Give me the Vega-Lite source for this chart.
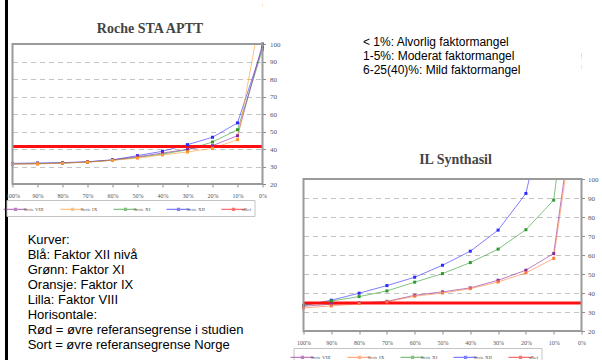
{
  "$schema": "https://vega.github.io/schema/vega-lite/v6.json",
  "width": 602,
  "height": 370,
  "autosize": {"type": "none"},
  "padding": {"left": 6.5, "top": -4, "right": 0, "bottom": 0},
  "background": "white",
  "config": {"view": {"stroke": "#000000", "strokeWidth": 3}},
  "datasets": {
    "curves": [
      {"chart": "A", "series": "Serie XII", "pct": 100, "value": 31.8},
      {"chart": "A", "series": "Serie XII", "pct": 90, "value": 32.0},
      {"chart": "A", "series": "Serie XII", "pct": 80, "value": 32.2},
      {"chart": "A", "series": "Serie XII", "pct": 70, "value": 32.7},
      {"chart": "A", "series": "Serie XII", "pct": 60, "value": 33.8},
      {"chart": "A", "series": "Serie XII", "pct": 50, "value": 36.2},
      {"chart": "A", "series": "Serie XII", "pct": 40, "value": 38.7},
      {"chart": "A", "series": "Serie XII", "pct": 30, "value": 42.5},
      {"chart": "A", "series": "Serie XII", "pct": 20, "value": 46.7},
      {"chart": "A", "series": "Serie XII", "pct": 10, "value": 54.9},
      {"chart": "A", "series": "Serie XII", "pct": 0, "value": 98},
      {"chart": "A", "series": "Serie XI", "pct": 100, "value": 31.5},
      {"chart": "A", "series": "Serie XI", "pct": 90, "value": 31.7},
      {"chart": "A", "series": "Serie XI", "pct": 80, "value": 32.0},
      {"chart": "A", "series": "Serie XI", "pct": 70, "value": 32.5},
      {"chart": "A", "series": "Serie XI", "pct": 60, "value": 33.6},
      {"chart": "A", "series": "Serie XI", "pct": 50, "value": 35.2},
      {"chart": "A", "series": "Serie XI", "pct": 40, "value": 37.1},
      {"chart": "A", "series": "Serie XI", "pct": 30, "value": 39.6},
      {"chart": "A", "series": "Serie XI", "pct": 20, "value": 44.0},
      {"chart": "A", "series": "Serie XI", "pct": 10, "value": 51.0},
      {"chart": "A", "series": "Serie XI", "pct": 0, "value": 96.8},
      {"chart": "A", "series": "Serie VIII", "pct": 100, "value": 31.5},
      {"chart": "A", "series": "Serie VIII", "pct": 90, "value": 31.6},
      {"chart": "A", "series": "Serie VIII", "pct": 80, "value": 32.0},
      {"chart": "A", "series": "Serie VIII", "pct": 70, "value": 32.6},
      {"chart": "A", "series": "Serie VIII", "pct": 60, "value": 33.7},
      {"chart": "A", "series": "Serie VIII", "pct": 50, "value": 35.6},
      {"chart": "A", "series": "Serie VIII", "pct": 40, "value": 37.7},
      {"chart": "A", "series": "Serie VIII", "pct": 30, "value": 39.8},
      {"chart": "A", "series": "Serie VIII", "pct": 20, "value": 41.9},
      {"chart": "A", "series": "Serie VIII", "pct": 10, "value": 47.6},
      {"chart": "A", "series": "Serie VIII", "pct": 0, "value": 100},
      {"chart": "A", "series": "Serie IX", "pct": 100, "value": 31.5},
      {"chart": "A", "series": "Serie IX", "pct": 90, "value": 31.5},
      {"chart": "A", "series": "Serie IX", "pct": 80, "value": 31.9},
      {"chart": "A", "series": "Serie IX", "pct": 70, "value": 32.5},
      {"chart": "A", "series": "Serie IX", "pct": 60, "value": 33.5},
      {"chart": "A", "series": "Serie IX", "pct": 50, "value": 34.8},
      {"chart": "A", "series": "Serie IX", "pct": 40, "value": 36.6},
      {"chart": "A", "series": "Serie IX", "pct": 30, "value": 38.3},
      {"chart": "A", "series": "Serie IX", "pct": 20, "value": 40.4},
      {"chart": "A", "series": "Serie IX", "pct": 10, "value": 45.3},
      {"chart": "A", "series": "Serie IX", "pct": 0, "value": 123},
      {"chart": "B", "series": "Serie XII", "pct": 100, "value": 33.5},
      {"chart": "B", "series": "Serie XII", "pct": 90, "value": 36.2},
      {"chart": "B", "series": "Serie XII", "pct": 80, "value": 39.9},
      {"chart": "B", "series": "Serie XII", "pct": 70, "value": 43.9},
      {"chart": "B", "series": "Serie XII", "pct": 60, "value": 48.3},
      {"chart": "B", "series": "Serie XII", "pct": 50, "value": 54.6},
      {"chart": "B", "series": "Serie XII", "pct": 40, "value": 62.0},
      {"chart": "B", "series": "Serie XII", "pct": 30, "value": 73.1},
      {"chart": "B", "series": "Serie XII", "pct": 20, "value": 92.4},
      {"chart": "B", "series": "Serie XII", "pct": 10, "value": 156},
      {"chart": "B", "series": "Serie XII", "pct": 0, "value": 250},
      {"chart": "B", "series": "Serie XI", "pct": 100, "value": 33.5},
      {"chart": "B", "series": "Serie XI", "pct": 90, "value": 35.8},
      {"chart": "B", "series": "Serie XI", "pct": 80, "value": 38.1},
      {"chart": "B", "series": "Serie XI", "pct": 70, "value": 41.1},
      {"chart": "B", "series": "Serie XI", "pct": 60, "value": 45.7},
      {"chart": "B", "series": "Serie XI", "pct": 50, "value": 50.2},
      {"chart": "B", "series": "Serie XI", "pct": 40, "value": 56.0},
      {"chart": "B", "series": "Serie XI", "pct": 30, "value": 63.1},
      {"chart": "B", "series": "Serie XI", "pct": 20, "value": 73.3},
      {"chart": "B", "series": "Serie XI", "pct": 10, "value": 88.9},
      {"chart": "B", "series": "Serie XI", "pct": 0, "value": 204},
      {"chart": "B", "series": "Serie VIII", "pct": 100, "value": 33.0},
      {"chart": "B", "series": "Serie VIII", "pct": 90, "value": 34.1},
      {"chart": "B", "series": "Serie VIII", "pct": 80, "value": 34.8},
      {"chart": "B", "series": "Serie VIII", "pct": 70, "value": 35.6},
      {"chart": "B", "series": "Serie VIII", "pct": 60, "value": 38.8},
      {"chart": "B", "series": "Serie VIII", "pct": 50, "value": 40.6},
      {"chart": "B", "series": "Serie VIII", "pct": 40, "value": 42.7},
      {"chart": "B", "series": "Serie VIII", "pct": 30, "value": 46.7},
      {"chart": "B", "series": "Serie VIII", "pct": 20, "value": 52.0},
      {"chart": "B", "series": "Serie VIII", "pct": 10, "value": 60.8},
      {"chart": "B", "series": "Serie VIII", "pct": 0, "value": 166},
      {"chart": "B", "series": "Serie IX", "pct": 100, "value": 32.1},
      {"chart": "B", "series": "Serie IX", "pct": 90, "value": 33.2},
      {"chart": "B", "series": "Serie IX", "pct": 80, "value": 34.4},
      {"chart": "B", "series": "Serie IX", "pct": 70, "value": 35.3},
      {"chart": "B", "series": "Serie IX", "pct": 60, "value": 38.3},
      {"chart": "B", "series": "Serie IX", "pct": 50, "value": 40.0},
      {"chart": "B", "series": "Serie IX", "pct": 40, "value": 42.3},
      {"chart": "B", "series": "Serie IX", "pct": 30, "value": 45.8},
      {"chart": "B", "series": "Serie IX", "pct": 20, "value": 50.6},
      {"chart": "B", "series": "Serie IX", "pct": 10, "value": 58.2},
      {"chart": "B", "series": "Serie IX", "pct": 0, "value": 160}
    ],
    "refs": [
      {"chart": "A", "series": "xRef", "value": 41.5},
      {"chart": "B", "series": "xRef", "value": 34.8}
    ]
  },
  "layer": [
    {
      "layer": [
        {
          "data": {"name": "curves"},
          "transform": [{"filter": "datum.chart === 'A'"}],
          "mark": {"type": "line", "strokeWidth": 1, "opacity": 0.6},
          "encoding": {
            "x": {"field": "pct", "type": "quantitative", "scale": {"domain": [100, 0], "range": [6, 256], "nice": false, "zero": false},
              "axis": {"orient": "bottom", "offset": -182, "values": [100, 90, 80, 70, 60, 50, 40, 30, 20, 10, 0], "labelExpr": "datum.value + '%'", "labelFont": "Liberation Serif", "labelFontSize": 6, "labelColor": "#555555", "tickColor": "#8a8a8a", "tickSize": 3, "labelPadding": 5, "domain": false, "grid": false, "title": null, "labelOverlap": false, "labelFlush": false}},
            "y": {"field": "value", "type": "quantitative", "scale": {"domain": [20, 100], "range": [188, 48], "nice": false, "zero": false},
              "axis": {"orient": "right", "offset": -346, "values": [20, 30, 40, 50, 60, 70, 80, 90, 100], "labelFont": "Liberation Serif", "labelFontSize": 7, "labelColor": "#555555", "tickColor": "#8a8a8a", "tickSize": 3, "labelPadding": 4, "domain": false, "grid": false, "title": null, "labelOverlap": false}},
            "color": {"field": "series", "type": "nominal", "scale": {"domain": ["Serie VIII", "Serie IX", "Serie XI", "Serie XII", "xRef"], "range": ["#8e2a9a", "#ff9a2e", "#2e9a2e", "#2a2aff", "#ff1010"]},
              "legend": {"orient": "none", "legendX": 0, "legendY": 204, "direction": "horizontal", "columns": 5, "title": null,
                "symbolType": "M-2.4,0H2.4M-0.2,-0.2H0.2V0.2H-0.2Z", "symbolSize": 100, "symbolStrokeWidth": 1.2,
                "labelFont": "Liberation Serif", "labelFontSize": 5, "labelColor": "#555555", "labelOffset": 2, "columnPadding": 13, "padding": 3,
                "strokeColor": "#c4c4c4", "fillColor": "white"}}
          }
        },
        {
          "data": {"name": "refs"},
          "transform": [{"filter": "datum.chart === 'A'"}],
          "mark": {"type": "rule", "strokeWidth": 3},
          "encoding": {
            "x": {"datum": 100, "type": "quantitative", "scale": {"domain": [100, 0], "range": [6, 256], "nice": false, "zero": false}, "axis": null},
            "x2": {"datum": 0},
            "y": {"field": "value", "type": "quantitative", "scale": {"domain": [20, 100], "range": [188, 48], "nice": false, "zero": false}, "axis": null},
            "color": {"field": "series", "type": "nominal", "scale": {"domain": ["Serie VIII", "Serie IX", "Serie XI", "Serie XII", "xRef"], "range": ["#8e2a9a", "#ff9a2e", "#2e9a2e", "#2a2aff", "#ff1010"]}, "legend": null}
          }
        },
        {
          "data": {"values": [{"mask": "A"}]},
          "mark": {"type": "rect", "fill": "white", "strokeWidth": 0},
          "encoding": {
            "x": {"datum": 100, "type": "quantitative", "scale": {"domain": [100, 0], "range": [6, 256], "nice": false, "zero": false}, "axis": null},
            "x2": {"datum": 0},
            "y": {"datum": 100, "type": "quantitative", "scale": {"domain": [20, 100], "range": [188, 48], "nice": false, "zero": false}, "axis": null},
            "y2": {"datum": 400}
          }
        },
        {
          "data": {"name": "curves"},
          "transform": [{"filter": "datum.chart === 'A' && datum.value <= 100"}],
          "mark": {"type": "point", "shape": "square", "filled": true, "size": 9, "opacity": 1},
          "encoding": {
            "x": {"field": "pct", "type": "quantitative", "scale": {"domain": [100, 0], "range": [6, 256], "nice": false, "zero": false}, "axis": null},
            "y": {"field": "value", "type": "quantitative", "scale": {"domain": [20, 100], "range": [188, 48], "nice": false, "zero": false}, "axis": null},
            "color": {"field": "series", "type": "nominal", "scale": {"domain": ["Serie VIII", "Serie IX", "Serie XI", "Serie XII", "xRef"], "range": ["#8e2a9a", "#ff9a2e", "#2e9a2e", "#2a2aff", "#ff1010"]}, "legend": null}
          }
        },
        {
          "data": {"values": [{"frame": "A"}]},
          "mark": {"type": "rect", "fill": "transparent", "stroke": "#9a9a9a", "strokeWidth": 2},
          "encoding": {
            "x": {"datum": 100, "type": "quantitative", "scale": {"domain": [100, 0], "range": [6, 256], "nice": false, "zero": false}, "axis": null},
            "x2": {"datum": 0},
            "y": {"datum": 20, "type": "quantitative", "scale": {"domain": [20, 100], "range": [188, 48], "nice": false, "zero": false},
              "axis": {"orient": "left", "grid": true, "gridDash": [5, 4], "gridColor": "#c4c4c4", "gridWidth": 1, "labels": false, "ticks": false, "domain": false, "values": [30, 40, 50, 60, 70, 80, 90], "title": null}},
            "y2": {"datum": 100}
          }
        }
      ],
      "resolve": {"axis": {"x": "independent", "y": "independent"}}
    },
    {
      "layer": [
        {
          "data": {"name": "curves"},
          "transform": [{"filter": "datum.chart === 'B'"}],
          "mark": {"type": "line", "strokeWidth": 1, "opacity": 0.6},
          "encoding": {
            "x": {"field": "pct", "type": "quantitative", "scale": {"domain": [100, 0], "range": [297, 575], "nice": false, "zero": false},
              "axis": {"orient": "bottom", "offset": -35, "values": [100, 90, 80, 70, 60, 50, 40, 30, 20, 10, 0], "labelExpr": "datum.value + '%'", "labelFont": "Liberation Serif", "labelFontSize": 6, "labelColor": "#555555", "tickColor": "#8a8a8a", "tickSize": 3, "labelPadding": 5, "domain": false, "grid": false, "title": null, "labelOverlap": false, "labelFlush": false}},
            "y": {"field": "value", "type": "quantitative", "scale": {"domain": [20, 100], "range": [335, 183], "nice": false, "zero": false},
              "axis": {"orient": "right", "offset": -27, "values": [20, 30, 40, 50, 60, 70, 80, 90, 100], "labelFont": "Liberation Serif", "labelFontSize": 7, "labelColor": "#555555", "tickColor": "#8a8a8a", "tickSize": 3, "labelPadding": 3, "domain": false, "grid": false, "title": null, "labelOverlap": false}},
            "color": {"field": "series", "type": "nominal", "scale": {"domain": ["Serie VIII", "Serie IX", "Serie XI", "Serie XII", "xRef"], "range": ["#8e2a9a", "#ff7a3a", "#2e9a2e", "#2a2aff", "#ff1010"]},
              "legend": {"orient": "none", "legendX": 287, "legendY": 352, "direction": "horizontal", "columns": 5, "title": null,
                "symbolType": "M-2.4,0H2.4M-0.2,-0.2H0.2V0.2H-0.2Z", "symbolSize": 100, "symbolStrokeWidth": 1.2,
                "labelFont": "Liberation Serif", "labelFontSize": 5, "labelColor": "#555555", "labelOffset": 2, "columnPadding": 13, "padding": 3,
                "strokeColor": "#c4c4c4", "fillColor": "white"}}
          }
        },
        {
          "data": {"name": "refs"},
          "transform": [{"filter": "datum.chart === 'B'"}],
          "mark": {"type": "rule", "strokeWidth": 3},
          "encoding": {
            "x": {"datum": 100, "type": "quantitative", "scale": {"domain": [100, 0], "range": [297, 575], "nice": false, "zero": false}, "axis": null},
            "x2": {"datum": 0},
            "y": {"field": "value", "type": "quantitative", "scale": {"domain": [20, 100], "range": [335, 183], "nice": false, "zero": false}, "axis": null},
            "color": {"field": "series", "type": "nominal", "scale": {"domain": ["Serie VIII", "Serie IX", "Serie XI", "Serie XII", "xRef"], "range": ["#8e2a9a", "#ff7a3a", "#2e9a2e", "#2a2aff", "#ff1010"]}, "legend": null}
          }
        },
        {
          "data": {"values": [{"mask": "B"}]},
          "mark": {"type": "rect", "fill": "white", "strokeWidth": 0},
          "encoding": {
            "x": {"datum": 100, "type": "quantitative", "scale": {"domain": [100, 0], "range": [297, 575], "nice": false, "zero": false}, "axis": null},
            "x2": {"datum": 0},
            "y": {"datum": 100, "type": "quantitative", "scale": {"domain": [20, 100], "range": [335, 183], "nice": false, "zero": false}, "axis": null},
            "y2": {"datum": 400}
          }
        },
        {
          "data": {"name": "curves"},
          "transform": [{"filter": "datum.chart === 'B' && datum.value <= 100"}],
          "mark": {"type": "point", "shape": "square", "filled": true, "size": 9, "opacity": 1},
          "encoding": {
            "x": {"field": "pct", "type": "quantitative", "scale": {"domain": [100, 0], "range": [297, 575], "nice": false, "zero": false}, "axis": null},
            "y": {"field": "value", "type": "quantitative", "scale": {"domain": [20, 100], "range": [335, 183], "nice": false, "zero": false}, "axis": null},
            "color": {"field": "series", "type": "nominal", "scale": {"domain": ["Serie VIII", "Serie IX", "Serie XI", "Serie XII", "xRef"], "range": ["#8e2a9a", "#ff7a3a", "#2e9a2e", "#2a2aff", "#ff1010"]}, "legend": null}
          }
        },
        {
          "data": {"values": [{"frame": "B"}]},
          "mark": {"type": "rect", "fill": "transparent", "stroke": "#9a9a9a", "strokeWidth": 2},
          "encoding": {
            "x": {"datum": 100, "type": "quantitative", "scale": {"domain": [100, 0], "range": [297, 575], "nice": false, "zero": false}, "axis": null},
            "x2": {"datum": 0},
            "y": {"datum": 20, "type": "quantitative", "scale": {"domain": [20, 100], "range": [335, 183], "nice": false, "zero": false},
              "axis": {"orient": "left", "grid": true, "gridDash": [5, 4], "gridColor": "#c4c4c4", "gridWidth": 1, "labels": false, "ticks": false, "domain": false, "values": [30, 40, 50, 60, 70, 80, 90], "title": null}},
            "y2": {"datum": 100}
          }
        }
      ],
      "resolve": {"axis": {"x": "independent", "y": "independent"}}
    },
    {
      "data": {"values": [{"chart": "A", "text": "Roche STA APTT"}, {"chart": "B", "text": "IL Synthasil"}]},
      "mark": {"type": "text", "font": "Liberation Serif", "fontWeight": "bold", "fontSize": 14, "color": "#444444", "baseline": "alphabetic", "align": "center"},
      "encoding": {
        "x": {"field": "chart", "type": "nominal", "scale": {"type": "point", "domain": ["A", "B"], "range": [143.5, 449], "padding": 0}, "axis": null},
        "y": {"field": "chart", "type": "nominal", "scale": {"type": "point", "domain": ["A", "B"], "range": [37, 168], "padding": 0}, "axis": null},
        "text": {"field": "text"}
      }
    },
    {
      "data": {"values": [
        {"block": "A", "line": 0, "text": "< 1%: Alvorlig faktormangel"},
        {"block": "A", "line": 1, "text": "1-5%: Moderat faktormangel"},
        {"block": "A", "line": 2, "text": "6-25(40)%: Mild faktormangel"}
      ]},
      "mark": {"type": "text", "font": "Liberation Sans", "fontSize": 12, "color": "#000000", "baseline": "alphabetic", "align": "left"},
      "encoding": {
        "x": {"field": "block", "type": "nominal", "scale": {"type": "point", "domain": ["A"], "range": [356.5, 356.5], "padding": 0}, "axis": null},
        "y": {"field": "line", "type": "quantitative", "scale": {"domain": [0, 2], "range": [50, 77.5], "nice": false, "zero": false}, "axis": null},
        "text": {"field": "text"}
      }
    },
    {
      "data": {"values": [
        {"block": "B", "line": 0, "text": "Kurver:"},
        {"block": "B", "line": 1, "text": "Blå: Faktor XII nivå"},
        {"block": "B", "line": 2, "text": "Grønn: Faktor XI"},
        {"block": "B", "line": 3, "text": "Oransje: Faktor IX"},
        {"block": "B", "line": 4, "text": "Lilla: Faktor VIII"},
        {"block": "B", "line": 5, "text": "Horisontale:"},
        {"block": "B", "line": 6, "text": "Rød = øvre referansegrense i studien"},
        {"block": "B", "line": 7, "text": "Sort = øvre referansegrense Norge"}
      ]},
      "mark": {"type": "text", "font": "Liberation Sans", "fontSize": 13, "color": "#000000", "baseline": "alphabetic", "align": "left"},
      "encoding": {
        "x": {"field": "block", "type": "nominal", "scale": {"type": "point", "domain": ["B"], "range": [21.2, 21.2], "padding": 0}, "axis": null},
        "y": {"field": "line", "type": "quantitative", "scale": {"domain": [0, 7], "range": [248.3, 353.3], "nice": false, "zero": false}, "axis": null},
        "text": {"field": "text"}
      }
    }
  ],
  "resolve": {
    "scale": {"x": "independent", "y": "independent", "color": "independent"},
    "axis": {"x": "independent", "y": "independent"},
    "legend": {"color": "independent"}
  }
}
